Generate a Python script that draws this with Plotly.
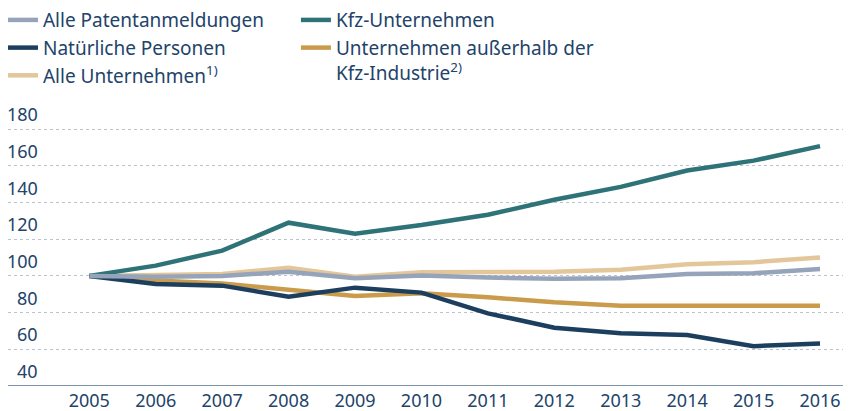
"""
Patentanmeldungen nach Anmeldergruppen, Index 2005 = 100.
"""

import plotly.graph_objects as go

YEARS = list(range(2005, 2017))
YEAR_LABELS = [str(y) for y in YEARS]
Y_TICKS = [40, 60, 80, 100, 120, 140, 160, 180]

ALLE_PATENTE = [100, 99.5, 100, 102.2, 98.7, 100.2, 99.1, 98.4, 98.7, 101.1, 101.5, 103.7]
NATUERLICHE = [100, 95.6, 94.7, 88.7, 93.6, 90.9, 79.6, 71.8, 68.7, 67.8, 61.7, 63.2]
ALLE_UNTERNEHMEN = [100, 100.5, 101, 104.5, 99.5, 102, 102.2, 102.2, 103.3, 106.4, 107.5, 110]
KFZ = [100, 105.6, 113.8, 129, 123, 127.7, 133.3, 141.5, 148.5, 157.4, 162.8, 170.7]
AUSSERHALB = [100, 97.5, 95.8, 92.3, 89, 90.5, 88.4, 85.6, 83.8, 83.8, 83.8, 83.8]

TEXT = "#22436A"
FONT = "Noto Sans"

# page body has an 8px margin, so the figure is 8px smaller than the window
W, H = 843, 403

# (name, values, colour, legend, rank) -- listed in drawing order
SERIES = [
    ("Alle Unternehmen<sup>1)</sup>", ALLE_UNTERNEHMEN, "#E3C79A", "legend", 3),
    ("Unternehmen außerhalb der<br>Kfz-Industrie<sup>2)</sup>", AUSSERHALB, "#C99B4B", "legend2", 2),
    ("Kfz-Unternehmen", KFZ, "#2E7378", "legend2", 1),
    ("Natürliche Personen", NATUERLICHE, "#1C3F5F", "legend", 2),
    ("Alle Patentanmeldungen", ALLE_PATENTE, "#95A4BA", "legend", 1),
]

fig = go.Figure()
for name, vals, color, leg, rank in SERIES:
    fig.add_trace(
        go.Scatter(
            x=YEARS,
            y=vals,
            name=name,
            mode="lines",
            line=dict(color=color, width=4.5),
            legend=leg,
            legendrank=rank,
            hoverinfo="skip",
        )
    )

# y labels sit above their gridlines, right-aligned near the left edge
for v in Y_TICKS:
    fig.add_annotation(
        x=0.0382, xref="paper", y=v, yref="y",
        text=str(v), showarrow=False,
        xanchor="right", yanchor="bottom", yshift=1,
        font=dict(family=FONT, size=18, color=TEXT),
    )

legend_common = dict(
    orientation="v",
    yanchor="top",
    xanchor="left",
    bgcolor="rgba(0,0,0,0)",
    font=dict(family=FONT, size=19, color=TEXT),
    traceorder="normal",
    valign="top",
    itemwidth=30,
)

fig.update_layout(
    width=W,
    height=H,
    plot_bgcolor="white",
    paper_bgcolor="white",
    margin=dict(l=0, r=6, t=120, b=25, autoexpand=False),
    font=dict(family=FONT, color=TEXT),
    legend=dict(x=-0.006, y=1.492, **legend_common),
    legend2=dict(x=0.344, y=1.492, **legend_common),
    xaxis=dict(
        range=[2003.776, 2016.376],
        tickvals=YEARS,
        ticktext=YEAR_LABELS,
        showgrid=False,
        zeroline=False,
        showline=False,
        ticks="",
        tickangle=0,
        ticklabelstandoff=2,
        tickfont=dict(family=FONT, size=18, color=TEXT),
    ),
    yaxis=dict(
        range=[40, 180.6],
        tickvals=Y_TICKS[1:],
        showticklabels=False,
        showgrid=True,
        gridcolor="#B9C3CD",
        griddash="dot",
        gridwidth=1,
        zeroline=False,
        showline=False,
        ticks="",
    ),
    shapes=[
        dict(
            type="line", xref="paper", yref="y",
            x0=0, x1=1, y0=40, y1=40,
            line=dict(color="#7F94A8", width=2),
        )
    ],
)

fig.write_html("out.html")
